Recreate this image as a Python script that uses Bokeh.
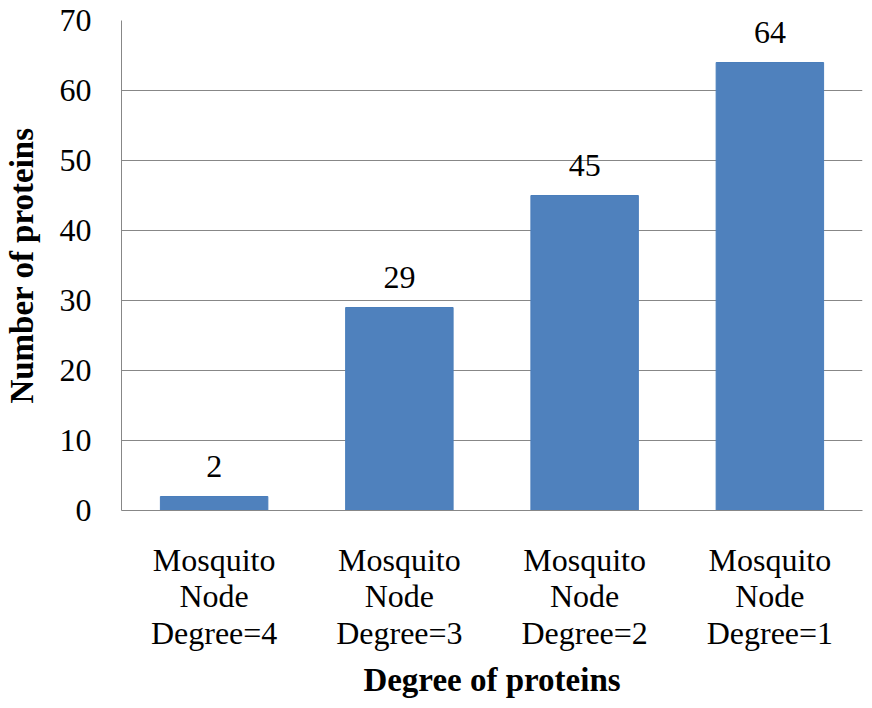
from bokeh.plotting import figure
from bokeh.models import ColumnDataSource, LabelSet, FactorRange, Range1d, FixedTicker
from bokeh.embed import file_html
from bokeh.resources import INLINE

categories = ["Mosquito\nNode\nDegree=4", "Mosquito\nNode\nDegree=3",
              "Mosquito\nNode\nDegree=2", "Mosquito\nNode\nDegree=1"]
counts = [2, 29, 45, 64]
y_ticks = [0, 10, 20, 30, 40, 50, 60, 70]
x_title = "Degree of proteins"
y_title = "Number of proteins"

FONT = "Liberation Serif"
BAR = "#4F81BD"
GRID = "#878787"

src = ColumnDataSource(dict(cat=categories, val=counts, lab=[str(v) for v in counts]))

p = figure(width=864, height=700, output_backend="svg", toolbar_location=None,
           x_range=FactorRange(*categories, range_padding=0), y_range=Range1d(0, 70),
           min_border_left=112, min_border_right=2, min_border_top=20, min_border_bottom=180)

p.vbar(x="cat", top="val", width=0.58, source=src, fill_color=BAR, line_color="#4A7EBB", line_width=1)

labels = LabelSet(x="cat", y="val", text="lab", source=src, text_align="center",
                  text_baseline="alphabetic", y_offset=20, text_font=FONT,
                  text_font_style="normal",
                  text_font_size="32px", text_color="black")
p.add_layout(labels)

p.outline_line_color = None
p.xgrid.grid_line_color = None
p.ygrid.grid_line_color = GRID
p.ygrid.grid_line_width = 1

p.yaxis.ticker = FixedTicker(ticks=y_ticks)
for ax in (p.xaxis[0], p.yaxis[0]):
    ax.axis_line_color = GRID
    ax.major_tick_line_color = None
    ax.minor_tick_line_color = None
    ax.major_tick_out = 0
    ax.major_tick_in = 0
    ax.major_label_text_font = FONT
    ax.major_label_text_font_style = "normal"
    ax.major_label_text_font_size = "32px"
    ax.major_label_text_color = "black"
    ax.axis_label_text_font = FONT
    ax.axis_label_text_font_style = "bold"
    ax.axis_label_text_font_size = "33px"
    ax.axis_label_text_color = "black"

p.yaxis.axis_label = y_title
p.yaxis.major_label_standoff = 30
p.yaxis.axis_label_standoff = 17
p.xaxis.axis_label = x_title
p.xaxis.major_label_standoff = 31
p.xaxis.major_label_text_line_height = 1.02
p.xaxis.axis_label_standoff = 8

open("out.html", "w").write(file_html(p, INLINE))
